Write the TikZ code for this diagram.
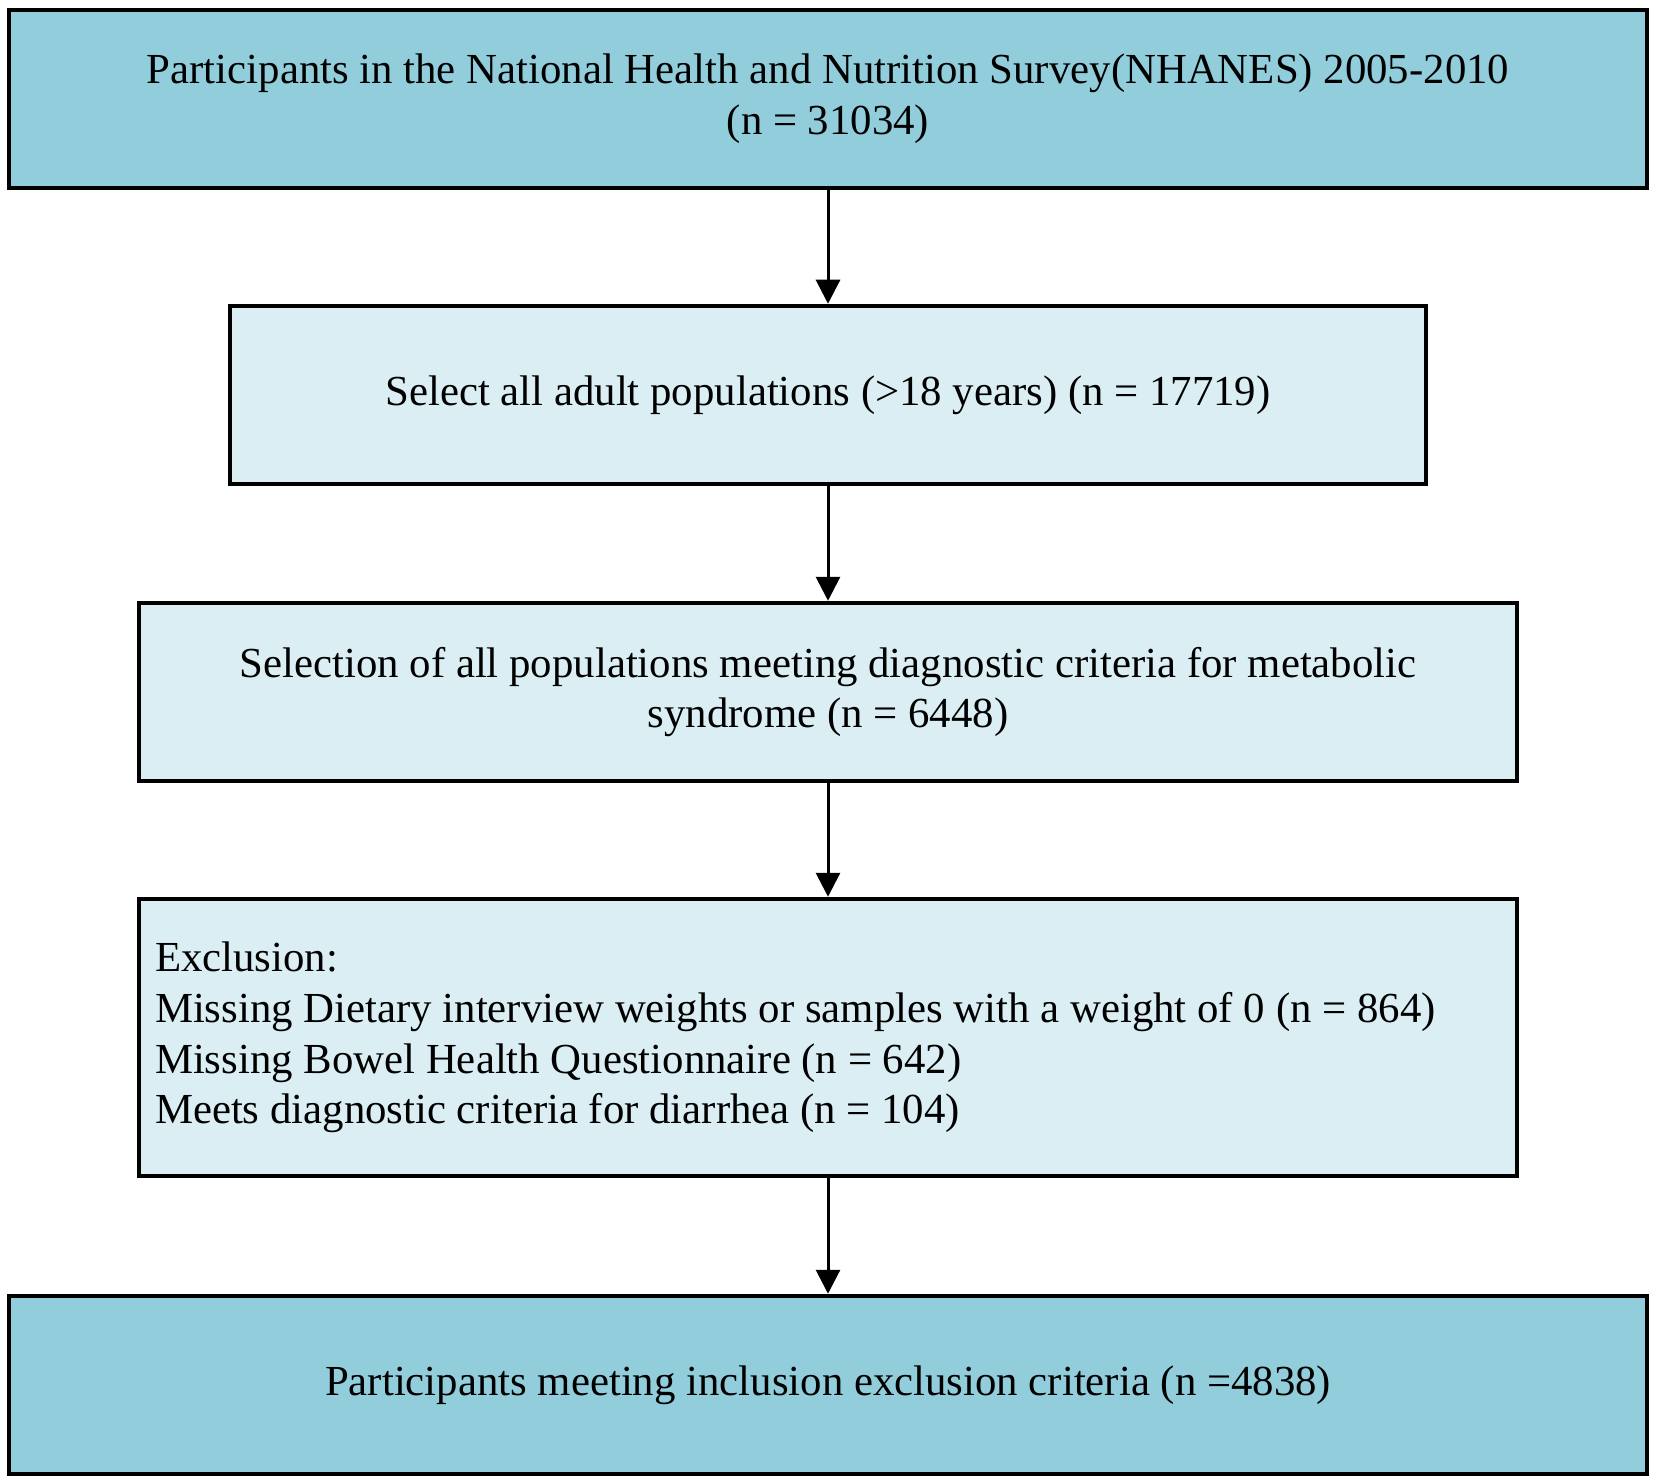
\documentclass[tikz,border=0pt]{standalone}
\usepackage{fontspec}
\setmainfont{Liberation Serif}
\usetikzlibrary{arrows.meta}

\definecolor{darkfill}{HTML}{92CDDC}
\definecolor{lightfill}{HTML}{DAEEF3}

\begin{document}
\begin{tikzpicture}[x=0.5pt,y=-0.5pt,
        box/.style={draw=black,line width=2.25pt,align=center,minimum height=89pt,
            font=\fontsize{21.4}{25.3}\selectfont},
        darkbox/.style={box,fill=darkfill},
        lightbox/.style={box,fill=lightfill},
        link/.style={line width=1.5pt,-{Triangle[width=12pt,length=12pt]}}]
            \path[use as bounding box] (0,0) rectangle (1654,1481);

            \node[darkbox,minimum width=819pt] (part) at (828,99)
                {Participants in the National Health and Nutrition Survey(NHANES) 2005-2010\\(n = 31034)};
            \node[lightbox,minimum width=598pt] (adult) at (828,395)
                {Select all adult populations (>18 years) (n = 17719)};
            \node[lightbox,minimum width=689pt] (mets) at (828,692)
                {Selection of all populations meeting diagnostic criteria for metabolic\\syndrome (n = 6448)};
            \node[lightbox,align=flush left,text width=673pt,inner xsep=8pt,minimum height=138.5pt] (excl) at (828,1037.5)
                {Exclusion:\\
                 Missing Dietary interview weights or samples with a weight of 0 (n = 864)\\
                 Missing Bowel Health Questionnaire (n = 642)\\
                 Meets diagnostic criteria for diarrhea (n = 104)};
            \node[darkbox,minimum width=819pt] (final) at (828,1385)
                {Participants meeting inclusion exclusion criteria (n =4838)};

            \draw[link] (part) -- (adult);
            \draw[link] (adult) -- (mets);
            \draw[link] (mets) -- (excl);
            \draw[link] (excl) -- (final);
        \end{tikzpicture}
\end{document}
